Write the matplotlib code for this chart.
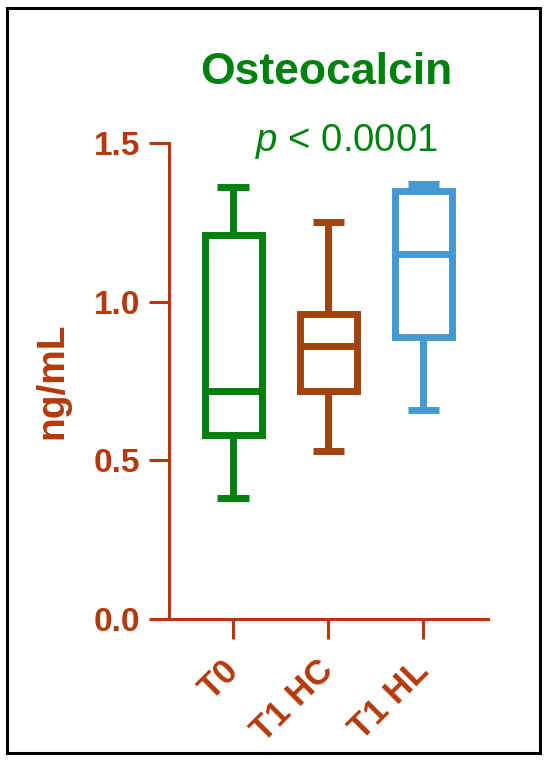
import matplotlib
matplotlib.use("Agg")
import matplotlib.pyplot as plt
from matplotlib.patches import Rectangle

plt.rcParams['font.family'] = ['Liberation Sans', 'DejaVu Sans']
plt.rcParams['mathtext.fontset'] = 'custom'
plt.rcParams['mathtext.it'] = 'Liberation Sans:italic'
plt.rcParams['mathtext.rm'] = 'Liberation Sans'

# data
groups = ["T0", "T1 HC", "T1 HL"]
whisker_low = [0.38, 0.53, 0.66]
q1 = [0.58, 0.72, 0.89]
median = [0.72, 0.86, 1.15]
q3 = [1.21, 0.96, 1.35]
whisker_high = [1.36, 1.25, 1.37]
box_colors = ["#00800E", "#A2420E", "#4499D2"]

axis_color = "#B5390B"
title_color = "#00800E"

fig = plt.figure(figsize=(5.5, 7.6), dpi=100)
ax = fig.add_axes([169/550, 1-619/760, 319/550, 476/760])

for i, g in enumerate(groups):
    stats = [dict(label=g, whislo=whisker_low[i], q1=q1[i], med=median[i],
                  q3=q3[i], whishi=whisker_high[i], fliers=[])]
    c = box_colors[i]
    lw = 5
    ax.bxp(stats, positions=[i + 1], widths=0.6, capwidths=0.33,
           showfliers=False,
           boxprops=dict(color=c, linewidth=lw, solid_joinstyle='miter'),
           medianprops=dict(color=c, linewidth=lw, solid_capstyle='butt'),
           whiskerprops=dict(color=c, linewidth=lw, solid_capstyle='butt'),
           capprops=dict(color=c, linewidth=lw, solid_capstyle='butt'))

ax.set_ylim(0, 1.5)
ax.set_xlim(0.326, 3.68)
ax.set_yticks([0.0, 0.5, 1.0, 1.5])
ax.set_yticklabels(["0.0", "0.5", "1.0", "1.5"])
ax.set_xticks([1, 2, 3])
ax.set_xticklabels(groups, rotation=45, ha='right', va='center',
                   rotation_mode='anchor')

for s in ["top", "right"]:
    ax.spines[s].set_visible(False)
for s in ["left", "bottom"]:
    ax.spines[s].set_color(axis_color)
    ax.spines[s].set_linewidth(2.2)

ax.tick_params(axis='both', colors=axis_color, length=14.5, width=2.2,
               labelsize=24, pad=6)
ax.tick_params(axis='x', pad=19, labelsize=25)
for lab in ax.get_xticklabels() + ax.get_yticklabels():
    lab.set_fontweight('bold')

ax.set_ylabel("ng/mL", fontsize=28, fontweight='bold', color=axis_color)
ax.yaxis.set_label_coords(-0.31, 0.5)

fig.text(326/550, 1-84/760, "Osteocalcin", fontsize=32, fontweight='bold',
         color=title_color, ha='center', va='baseline')
fig.text(346/550, 1-151/760, r"$\it{p}$ < 0.0001", fontsize=27.5,
         color=title_color, ha='center', va='baseline')

fig.patches.append(Rectangle((7/550, 7/760), 533/550, 745/760,
                             transform=fig.transFigure, fill=False,
                             edgecolor='black', linewidth=2.2))

fig.savefig("out.png", dpi=100)
